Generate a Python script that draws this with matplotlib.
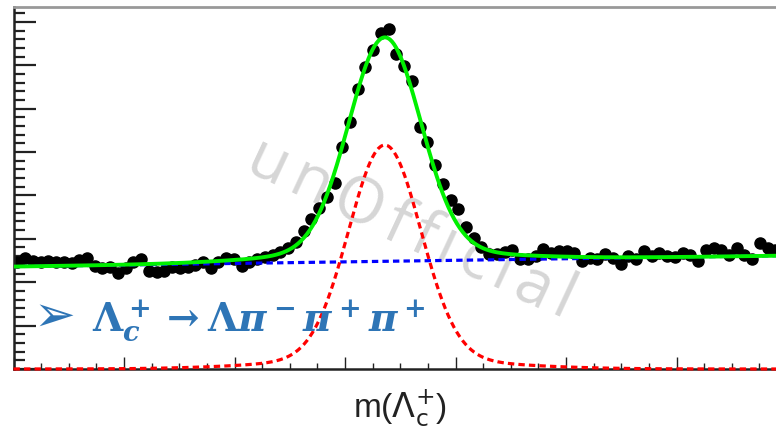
import matplotlib
matplotlib.use("Agg")
import matplotlib.pyplot as plt
import numpy as np
from matplotlib.ticker import MultipleLocator, NullFormatter
from matplotlib.font_manager import FontProperties
from matplotlib.textpath import TextToPath

# invariant mass histogram, 1.4 MeV bins starting at 2.22 GeV
bin_lo = 2.22
bin_width = 0.0014
counts = [
    247, 256, 249, 247, 249, 247, 247, 244, 251, 256,
    237, 233, 235, 221, 233, 247, 253, 226, 224, 226,
    235, 233, 235, 240, 247, 233, 247, 256, 253, 237,
    247, 253, 258, 263, 270,
    279, 293, 318, 346, 371, 396, 429, 512, 569, 645,
    696, 735, 774, 783, 726, 698, 664, 558, 523, 470,
    426, 389, 369, 327, 302, 281, 265, 265, 270, 274,
    253, 253, 260, 276, 267, 272, 272, 267, 249, 256,
    253, 265, 256, 242, 260, 253, 272, 260, 267, 260,
    258, 267, 263, 249, 274, 279, 274, 263, 279, 263,
    253, 290, 279, 274, 276,
]

# fit result: double gaussian signal + linear background
sig_mean = 2.2872
sig_amp = [491.0, 25.0]
sig_width = [0.0065, 0.018]
bkg_at_lo = 236.0
bkg_slope = 181.0

x_range = (2.22, 2.36)
y_max = 833

centers = bin_lo + bin_width * (np.arange(len(counts)) + 0.5)
xs = np.linspace(x_range[0], x_range[1], 800)
bkg = bkg_at_lo + bkg_slope * (xs - bin_lo)
sig = sum(a * np.exp(-0.5 * ((xs - sig_mean) / s) ** 2) for a, s in zip(sig_amp, sig_width))
total = bkg + sig

W, H = 776, 429
fig = plt.figure(figsize=(W / 100, H / 100), dpi=100)
ax = fig.add_axes([13.5 / W, 60 / H, 773.5 / W, 361.5 / H])
ax.set_facecolor("none")

ax.plot(centers, counts, "o", color="black", ms=8, zorder=2)
dots = (0, (2, 1.3))
ax.plot(xs, bkg, color="#0000ff", lw=2.3, ls=dots, zorder=3)
ax.plot(xs, sig, color="#ff0000", lw=2.3, ls=dots, zorder=3, clip_on=False)
ax.plot(xs, total, color="#00f000", lw=2.8, zorder=4)

ax.set_xlim(*x_range)
ax.set_ylim(0, y_max)
ax.xaxis.set_major_locator(MultipleLocator(0.02))
ax.xaxis.set_minor_locator(MultipleLocator(0.005))
ax.yaxis.set_major_locator(MultipleLocator(100))
ax.yaxis.set_minor_locator(MultipleLocator(20))
ax.xaxis.set_major_formatter(NullFormatter())
ax.yaxis.set_major_formatter(NullFormatter())
ax.tick_params(axis="y", which="major", direction="in", length=16, width=1.6, color="#222222")
ax.tick_params(axis="y", which="minor", direction="in", length=8, width=1.6, color="#222222")
ax.tick_params(axis="x", which="major", direction="in", length=9, width=1.0, color="#222222")
ax.tick_params(axis="x", which="minor", direction="in", length=4, width=1.0, color="#222222")
ax.tick_params(top=False, right=False)
for side in ("left", "bottom"):
    ax.spines[side].set_linewidth(1.8)
    ax.spines[side].set_color("#222222")
ax.spines["top"].set_color("#999999")
ax.spines["top"].set_linewidth(2.0)

ax.set_xlabel(r"m($\Lambda_{\mathrm{c}}^{+}$)", fontsize=24, family="Liberation Sans",
              math_fontfamily="dejavusans", color="#222222")
ax.xaxis.set_label_coords(0.5, -0.11)
ax.xaxis.label.set_va("center")

# decay channel label
plt.rcParams["mathtext.fontset"] = "custom"
plt.rcParams["mathtext.rm"] = "DejaVu Serif:bold"
plt.rcParams["mathtext.it"] = "DejaVu Serif:bold:italic"
plt.rcParams["mathtext.bf"] = "DejaVu Serif:bold"
blue = "#2e75b6"
fig.text(33 / W, 1 - 331 / H, "\u27a2", fontsize=36, color=blue, family="DejaVu Sans",
         ha="left", va="baseline")
fig.text(92 / W, 1 - 331 / H, r"$\Lambda_c^+ \rightarrow \Lambda\pi^-\pi^+\pi^+$",
         fontsize=28, color=blue, math_fontfamily="custom", ha="left", va="baseline")

# watermark, letter-spaced along a slanted line
mark = "unOfficial"
mark_prop = FontProperties(family="Open Sans", size=46)
ttp = TextToPath()
angle = np.deg2rad(25)
tracking = 7.5
x0, y0 = 243, 172
for i, ch in enumerate(mark):
    adv = ttp.get_text_width_height_descent(mark[:i], mark_prop, ismath=False)[0] * 100 / 72 if i else 0
    d = adv + i * tracking
    px = x0 + d * np.cos(angle)
    py = y0 + d * np.sin(angle)
    ax.text(px / W, 1 - py / H, ch, transform=fig.transFigure, fontproperties=mark_prop,
            color="#d6d6d6", rotation=-25, rotation_mode="anchor", ha="left", va="baseline",
            zorder=1)

fig.savefig("out.png", dpi=100)
